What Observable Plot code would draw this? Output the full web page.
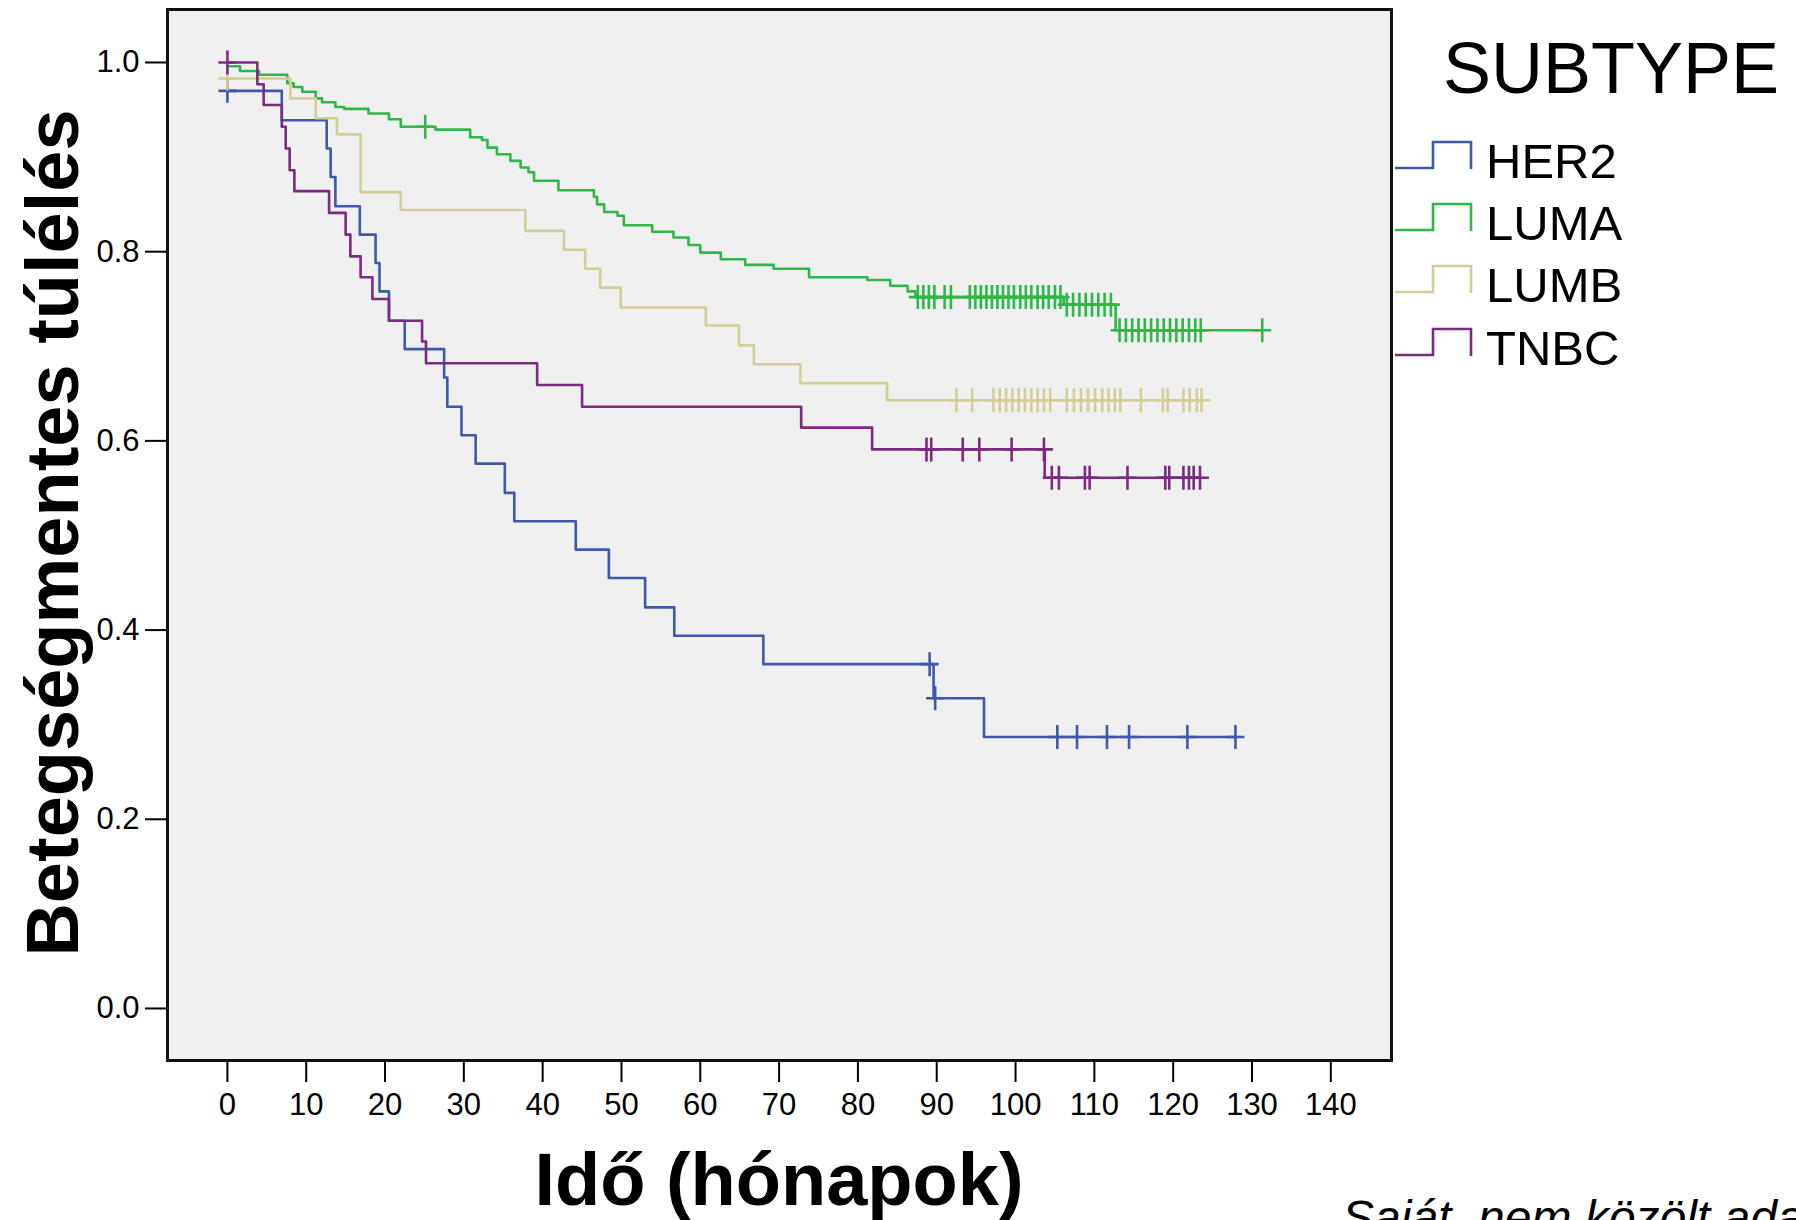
<!DOCTYPE html>
<html>
<head>
<meta charset="utf-8">
<script src="https://cdn.jsdelivr.net/npm/d3@7"></script>
<script src="https://cdn.jsdelivr.net/npm/@observablehq/plot@0.6"></script>
<style>
  html, body { margin: 0; padding: 0; background: #ffffff; }
  #wrap { position: relative; width: 1796px; height: 1220px; overflow: hidden; background: #ffffff; font-family: "Liberation Sans", Arial, sans-serif; }
  .legtitle { position: absolute; left: 1443px; top: 32px; font-size: 72px; line-height: 1; color: #000; }
  .legitem { position: absolute; left: 1395px; height: 50px; }
  .legitem svg { position: absolute; left: 0; top: 0; }
  .legitem span { position: absolute; left: 91px; top: 0; font-size: 49px; line-height: 1; color: #000; white-space: nowrap; }
  #caption { position: absolute; left: 1342px; top: 1194px; font-size: 48px; font-style: italic; color: #000; white-space: nowrap; line-height: 1; }
</style>
</head>
<body>
<div id="wrap"></div>
<script>
// ---------- data ----------
const subtypes = ["HER2", "LUMA", "LUMB", "TNBC"];
const colors   = ["#3E58AC", "#2EB848", "#D3CE97", "#7B2B80"];

// HER2: event times (months) and survival after each step
const her2Time = [0, 6.9, 12.6, 13.1, 13.7, 16.8, 18.8, 19.3, 20.5, 22.5, 27.5, 27.9, 29.7, 31.5, 35.2, 36.4, 44.2, 48.4, 53.0, 56.7, 68.0, 89.6, 96.0];
const her2Surv = [0.970, 0.939, 0.909, 0.879, 0.848, 0.818, 0.788, 0.758, 0.727, 0.697, 0.667, 0.636, 0.606, 0.576, 0.545, 0.515, 0.485, 0.455, 0.424, 0.394, 0.364, 0.328, 0.287];
const her2Censor = [0, 89.1, 89.8, 105.3, 107.8, 111.6, 114.4, 121.8, 127.9];

// LUMA
const lumaTime = [0, 1.6, 4.0, 7.6, 8.4, 9.5, 11.2, 12.0, 13.7, 14.8, 17.9, 20.5, 22.0, 26.4, 30.8, 32.3, 33.0, 34.2, 35.9, 37.2, 38.2, 38.9, 42.0, 46.5, 46.9, 47.8, 49.5, 50.3, 53.9, 56.6, 58.5, 60.0, 62.6, 65.7, 69.3, 73.8, 81.2, 84.1, 86.3, 87.3, 106.1, 112.7];
const lumaSurv = [0.996, 0.991, 0.987, 0.978, 0.974, 0.969, 0.962, 0.958, 0.953, 0.951, 0.946, 0.940, 0.932, 0.929, 0.921, 0.918, 0.910, 0.903, 0.896, 0.889, 0.884, 0.875, 0.865, 0.858, 0.850, 0.842, 0.838, 0.828, 0.821, 0.815, 0.807, 0.799, 0.792, 0.786, 0.782, 0.773, 0.770, 0.764, 0.758, 0.752, 0.744, 0.717];
const lumaCensor = [25.1, 87.6, 88.3, 89.0, 89.7, 91.0, 91.8, 94.2, 94.9, 95.6, 96.3, 97.0, 97.7, 98.4, 99.1, 99.8, 100.6, 101.3, 102.0, 102.8, 103.5, 104.2, 105.0, 105.7, 106.5, 107.3, 108.1, 108.9, 109.7, 110.5, 111.3, 112.1, 113.2, 114.0, 114.8, 115.6, 116.4, 117.2, 118.0, 118.8, 119.6, 120.4, 121.2, 122.0, 122.8, 123.5, 131.3];

// LUMB
const lumbTime = [0, 8.0, 11.2, 13.9, 16.9, 22.0, 37.8, 42.7, 45.4, 47.3, 49.9, 60.7, 64.9, 66.8, 72.7, 83.7];
const lumbSurv = [0.983, 0.962, 0.941, 0.924, 0.863, 0.844, 0.822, 0.802, 0.782, 0.762, 0.741, 0.722, 0.701, 0.681, 0.661, 0.643];
const lumbCensor = [0, 92.5, 94.5, 97.2, 98.0, 98.8, 99.6, 100.4, 101.2, 102.0, 102.8, 103.6, 104.4, 106.5, 107.4, 108.3, 109.2, 110.1, 111.0, 111.8, 112.6, 113.3, 115.9, 118.7, 119.3, 121.3, 122.1, 123.0, 123.6];

// TNBC
const tnbcTime = [0, 3.8, 4.6, 6.9, 7.4, 7.9, 8.5, 12.9, 15.0, 15.6, 16.9, 18.4, 20.5, 24.7, 25.2, 39.3, 45.0, 72.8, 81.8, 103.7];
const tnbcSurv = [1.0, 0.977, 0.955, 0.932, 0.909, 0.886, 0.864, 0.841, 0.818, 0.795, 0.773, 0.750, 0.727, 0.705, 0.682, 0.659, 0.636, 0.614, 0.591, 0.561];
const tnbcCensor = [0, 88.7, 89.3, 93.3, 95.4, 99.5, 103.6, 104.6, 105.5, 108.8, 109.4, 114.2, 119.0, 119.5, 121.3, 122.0, 122.6, 123.4];

const xTicks = [0, 10, 20, 30, 40, 50, 60, 70, 80, 90, 100, 110, 120, 130, 140];
const yTicks = [0.0, 0.2, 0.4, 0.6, 0.8, 1.0];

const xTitle = "Idő (hónapok)";
const yTitle = "Betegségmentes túlélés";
const legendTitle = "SUBTYPE";
const captionText = "Saját, nem közölt adatok";

// ---------- build tables ----------
const series = [
  {name: "HER2", time: her2Time, surv: her2Surv, censor: her2Censor},
  {name: "LUMA", time: lumaTime, surv: lumaSurv, censor: lumaCensor},
  {name: "LUMB", time: lumbTime, surv: lumbSurv, censor: lumbCensor},
  {name: "TNBC", time: tnbcTime, surv: tnbcSurv, censor: tnbcCensor}
];

function survAt(s, t) {
  let v = s.surv[0];
  for (let i = 0; i < s.time.length; i++) if (s.time[i] <= t) v = s.surv[i];
  return v;
}

const lineData = [];
const censorData = [];
for (const s of series) {
  s.time.forEach((t, i) => lineData.push({subtype: s.name, t, s: s.surv[i]}));
  const end = Math.max(d3.max(s.censor), d3.max(s.time));
  lineData.push({subtype: s.name, t: end, s: s.surv[s.surv.length - 1]});
  s.censor.forEach(t => censorData.push({subtype: s.name, t, s: survAt(s, t)}));
}

const plusSymbol = {
  draw(ctx) {
    ctx.moveTo(-9, 0); ctx.lineTo(9, 0);
    ctx.moveTo(0, -12); ctx.lineTo(0, 12);
  }
};

const chart = Plot.plot({
  width: 1796,
  height: 1220,
  marginLeft: 167,
  marginRight: 405,
  marginTop: 9,
  marginBottom: 160,
  style: {fontFamily: "'Liberation Sans', Arial, sans-serif", fontSize: "31px", background: "transparent", color: "#000"},
  x: {domain: [-7.6, 147.7]},
  y: {domain: [-0.055, 1.056]},
  color: {domain: subtypes, range: colors},
  marks: [
    Plot.frame({fill: "#f0f0f0", stroke: null}),
    Plot.line(lineData, {x: "t", y: "s", z: "subtype", stroke: "subtype", curve: "step-after", strokeWidth: 2.6}),
    Plot.dot(censorData, {x: "t", y: "s", stroke: "subtype", symbol: plusSymbol, fill: "none", strokeWidth: 2.6, r: 10}),
    Plot.frame({stroke: "#111", strokeWidth: 3}),
    Plot.axisX({ticks: xTicks, tickSize: 22, tickPadding: 10, strokeWidth: 2, label: null, tickFormat: d => String(d)}),
    Plot.axisY({ticks: yTicks, tickSize: 22, tickPadding: 6, strokeWidth: 2, label: null, tickFormat: d3.format(".1f")})
  ]
});

const wrap = document.getElementById("wrap");
wrap.appendChild(chart);

const svg = d3.select(chart);
svg.append("text")
  .attr("x", 779).attr("y", 1205)
  .attr("text-anchor", "middle")
  .attr("font-size", 74).attr("font-weight", "bold")
  .attr("fill", "#000")
  .text(xTitle);
svg.append("text")
  .attr("transform", "translate(78,533) rotate(-90)")
  .attr("text-anchor", "middle")
  .attr("font-size", 74).attr("font-weight", "bold")
  .attr("fill", "#000")
  .text(yTitle);

// legend
const lt = document.createElement("div");
lt.className = "legtitle";
lt.textContent = legendTitle;
wrap.appendChild(lt);
const legTops = [137, 199, 261, 324];
subtypes.forEach((name, i) => {
  const item = document.createElement("div");
  item.className = "legitem";
  item.style.top = legTops[i] + "px";
  item.innerHTML = `<svg width="90" height="50"><path d="M0,31 H38 V5 H76 V32" fill="none" stroke="${colors[i]}" stroke-width="2.6"/></svg><span>${name}</span>`;
  wrap.appendChild(item);
});

const cap = document.createElement("div");
cap.id = "caption";
cap.textContent = captionText;
wrap.appendChild(cap);
</script>
</body>
</html>
